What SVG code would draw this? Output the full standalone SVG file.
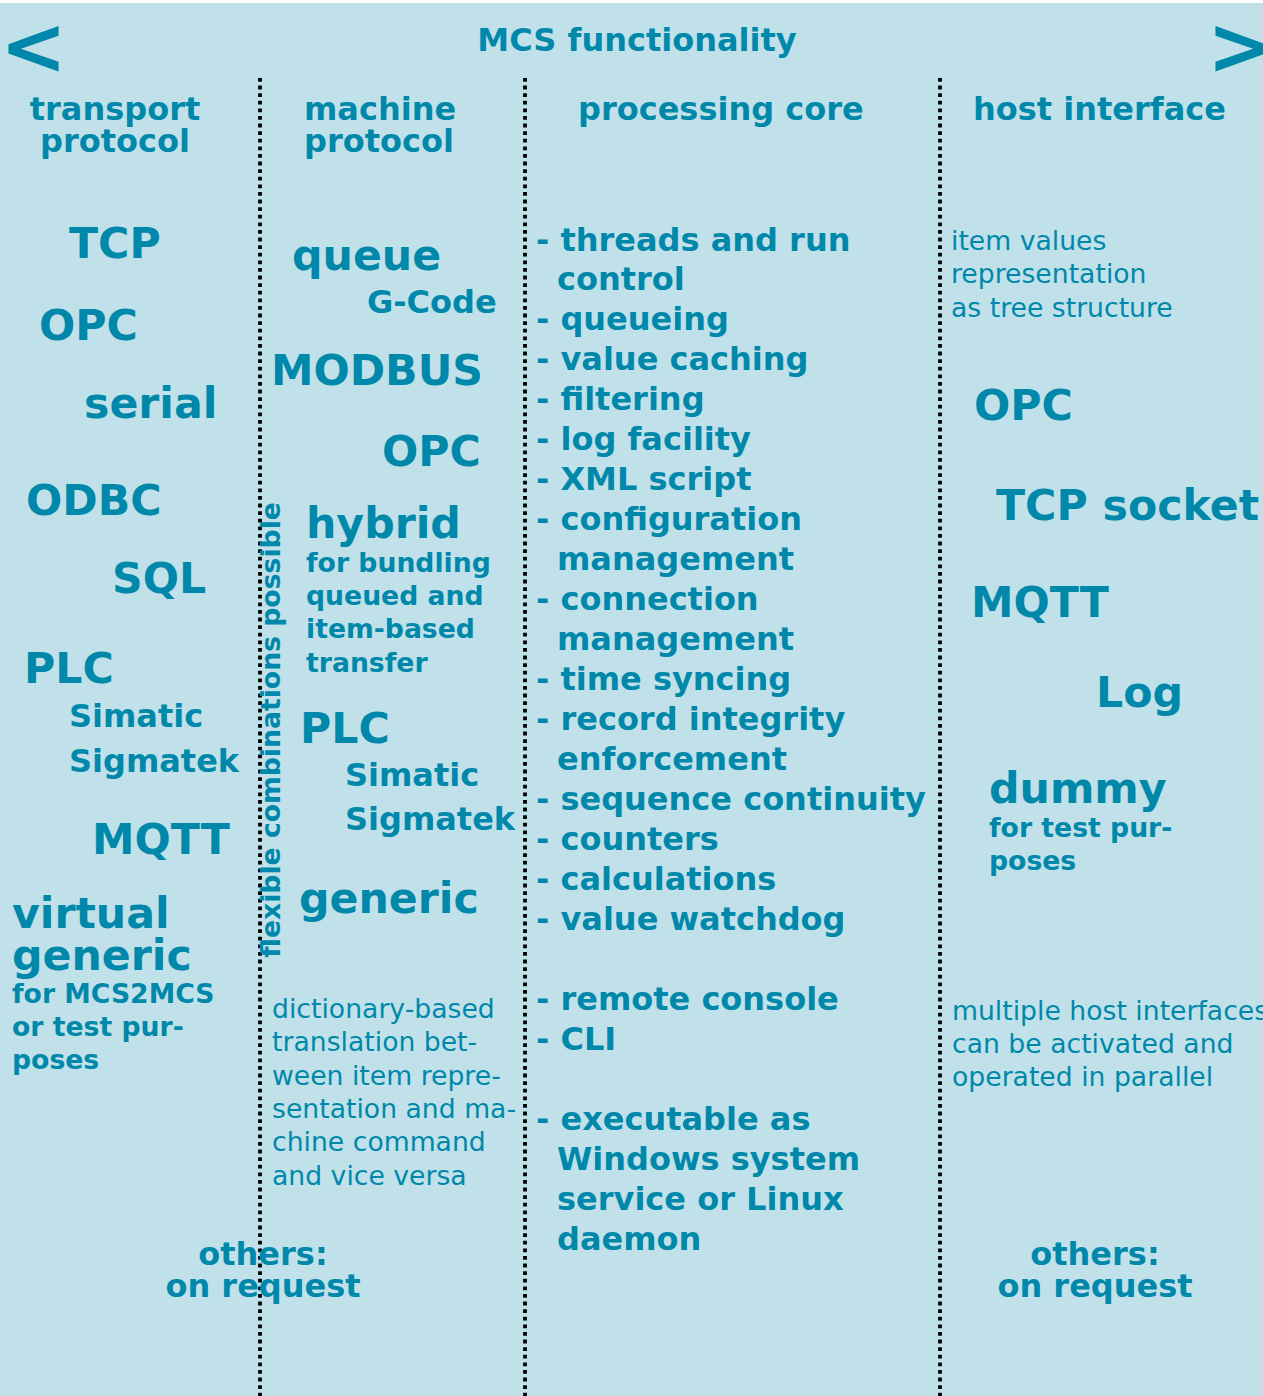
<svg xmlns="http://www.w3.org/2000/svg" width="1263" height="1396" viewBox="0 0 1263 1396">
<style>
text{font-family:"DejaVu Sans","Liberation Sans",sans-serif;fill:#0088aa}
.hd{font-size:32px;font-weight:bold}
.big{font-size:42.67px;font-weight:bold}
.med{font-size:32px;font-weight:bold}
.sm{font-size:26.67px;font-weight:bold}
.n{font-size:26.67px;font-weight:normal}
.c{text-anchor:middle}
.sep{stroke:#000;stroke-width:3.8;stroke-dasharray:3.8 3.8;fill:none}
</style>
<rect x="0" y="0" width="1263" height="1396" fill="#ffffff"/>
<rect x="0" y="3" width="1263" height="1393" fill="#c0e1e9"/>
<g id="connectors">
<line class="sep" x1="260" y1="78" x2="260" y2="1396"/>
<line class="sep" x1="525" y1="78" x2="525" y2="1396"/>
<line class="sep" x1="940" y1="78" x2="940" y2="1396"/>
</g>
<g id="title">
<text x="0" y="74" style="font-size:80px;font-weight:bold">&lt;</text>
<text x="1207" y="74" style="font-size:80px;font-weight:bold">&gt;</text>
<text class="hd c" x="637" y="51">MCS functionality</text>
</g>
<g id="col-transport" transform="translate(-1,0)">
<text class="hd c" x="116" y="120">transport</text>
<text class="hd c" x="116" y="152">protocol</text>
<text class="big" x="70" y="258">TCP</text>
<text class="big" x="40" y="340">OPC</text>
<text class="big" x="85" y="418">serial</text>
<text class="big" x="27" y="515">ODBC</text>
<text class="big" x="113" y="593">SQL</text>
<text class="big" x="25" y="683">PLC</text>
<text class="med" x="70" y="727">Simatic</text>
<text class="med" x="70" y="772">Sigmatek</text>
<text class="big" x="93" y="854">MQTT</text>
<text class="big" x="13" y="928">virtual</text>
<text class="big" x="13" y="970">generic</text>
<text class="sm" x="13" y="1003">for MCS2MCS</text>
<text class="sm" x="13" y="1036">or test pur-</text>
<text class="sm" x="13" y="1069">poses</text>
<text class="hd c" x="264" y="1265">others:</text>
<text class="hd c" x="264" y="1297">on request</text>
</g>
<g id="col-machine" transform="translate(-1,0)">
<text class="hd" x="305" y="120">machine</text>
<text class="hd" x="305" y="152">protocol</text>
<text class="big" x="293" y="270">queue</text>
<text class="med" x="368" y="313">G-Code</text>
<text class="big" x="272" y="385">MODBUS</text>
<text class="big" x="383" y="466">OPC</text>
<text class="big" x="307" y="538">hybrid</text>
<text class="sm" x="307" y="572">for bundling</text>
<text class="sm" x="307" y="605">queued and</text>
<text class="sm" x="307" y="638">item-based</text>
<text class="sm" x="307" y="672">transfer</text>
<text class="big" x="301" y="743">PLC</text>
<text class="med" x="346" y="786">Simatic</text>
<text class="med" x="346" y="830">Sigmatek</text>
<text class="big" x="300" y="913">generic</text>
<text class="sm c" transform="translate(281,730) rotate(-90)" x="0" y="0">flexible combinations possible</text>
<text class="n" x="273" y="1018">dictionary-based</text>
<text class="n" x="273" y="1051">translation bet-</text>
<text class="n" x="273" y="1085">ween item repre-</text>
<text class="n" x="273" y="1118">sentation and ma-</text>
<text class="n" x="273" y="1151">chine command</text>
<text class="n" x="273" y="1185">and vice versa</text>
</g>
<g id="col-core" transform="translate(-1,0)">
<text class="hd" x="579" y="120">processing core</text>
<text class="med" x="537" y="251">- threads and run</text>
<text class="med" x="558" y="290">control</text>
<text class="med" x="537" y="330">- queueing</text>
<text class="med" x="537" y="370">- value caching</text>
<text class="med" x="537" y="410">- filtering</text>
<text class="med" x="537" y="450">- log facility</text>
<text class="med" x="537" y="490">- XML script</text>
<text class="med" x="537" y="530">- configuration</text>
<text class="med" x="558" y="570">management</text>
<text class="med" x="537" y="610">- connection</text>
<text class="med" x="558" y="650">management</text>
<text class="med" x="537" y="690">- time syncing</text>
<text class="med" x="537" y="730">- record integrity</text>
<text class="med" x="558" y="770">enforcement</text>
<text class="med" x="537" y="810">- sequence continuity</text>
<text class="med" x="537" y="850">- counters</text>
<text class="med" x="537" y="890">- calculations</text>
<text class="med" x="537" y="930">- value watchdog</text>
<text class="med" x="537" y="1010">- remote console</text>
<text class="med" x="537" y="1050">- CLI</text>
<text class="med" x="537" y="1130">- executable as</text>
<text class="med" x="558" y="1170">Windows system</text>
<text class="med" x="558" y="1210">service or Linux</text>
<text class="med" x="558" y="1250">daemon</text>
</g>
<g id="col-host" transform="translate(-1,0)">
<text class="hd" x="974" y="120">host interface</text>
<text class="n" x="952" y="250">item values</text>
<text class="n" x="952" y="283">representation</text>
<text class="n" x="952" y="317">as tree structure</text>
<text class="big" x="975" y="420">OPC</text>
<text class="big" x="997" y="520">TCP socket</text>
<text class="big" x="972" y="617">MQTT</text>
<text class="big" x="1097" y="707">Log</text>
<text class="big" x="990" y="803">dummy</text>
<text class="sm" x="990" y="837">for test pur-</text>
<text class="sm" x="990" y="870">poses</text>
<text class="n" x="953" y="1020">multiple host interfaces</text>
<text class="n" x="953" y="1053">can be activated and</text>
<text class="n" x="953" y="1086">operated in parallel</text>
<text class="hd c" x="1096" y="1265">others:</text>
<text class="hd c" x="1096" y="1297">on request</text>
</g>
</svg>
